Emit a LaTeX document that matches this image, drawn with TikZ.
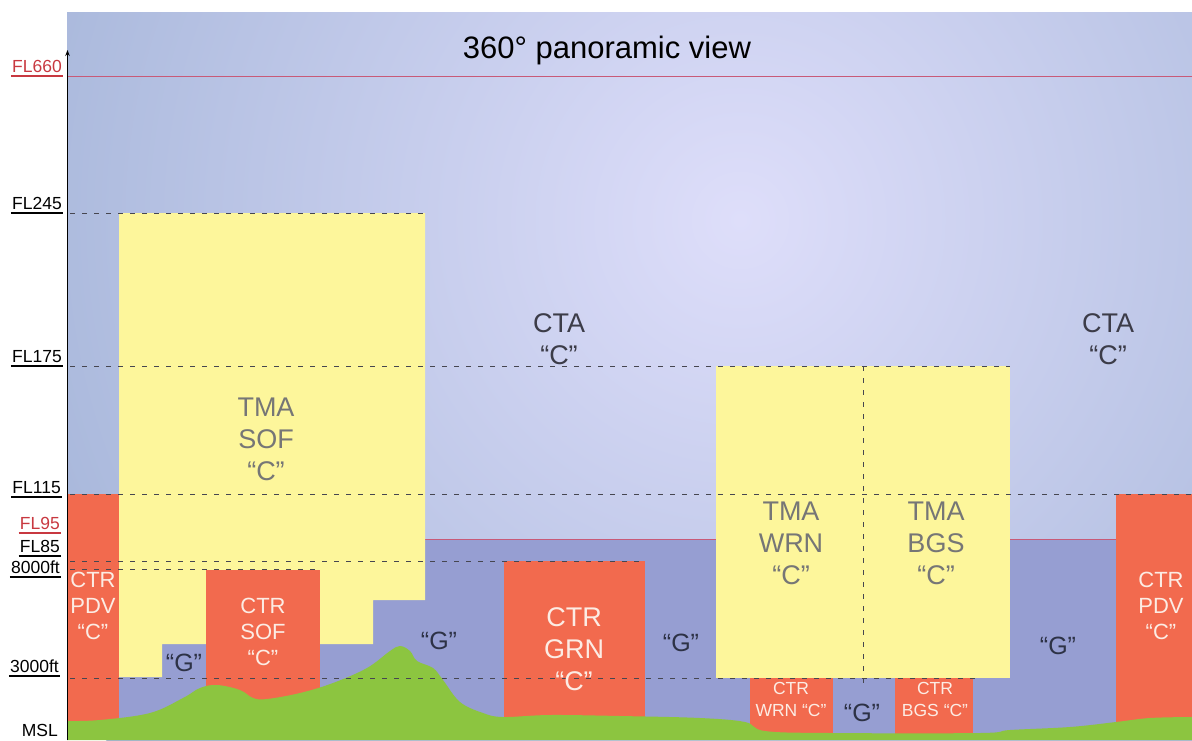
\documentclass[tikz,border=0pt]{standalone}
\usepackage{fontspec}
\setmainfont{Liberation Sans}
\usetikzlibrary{arrows.meta,calc}

\definecolor{bgOuter}{RGB}{163,180,216}
\definecolor{bgInner}{RGB}{222,222,250}
\definecolor{gPurple}{RGB}{150,158,210}
\definecolor{tmaYellow}{RGB}{253,246,155}
\definecolor{ctrRed}{RGB}{242,106,78}
\definecolor{terrain}{RGB}{140,197,64}
\definecolor{flRed}{RGB}{200,56,64}
\definecolor{limitRed}{RGB}{200,90,120}
\definecolor{dashGray}{RGB}{70,70,80}
\definecolor{tmaGray}{RGB}{118,118,118}
\definecolor{ctrText}{RGB}{252,236,228}
\definecolor{gDark}{RGB}{45,50,70}
\definecolor{ctaDark}{RGB}{60,60,72}

\tikzset{
  level/.style={dashGray, line width=1pt, dash pattern=on 5pt off 7pt},
  limit/.style={limitRed, line width=0.9pt},
  axlab/.style={anchor=base east, inner sep=0pt, font=\fontsize{17.5}{20}\selectfont},
  ul/.style={line width=1.8pt},
  tmatext/.style={text=tmaGray, align=center, inner sep=0pt, font=\fontsize{27}{32}\selectfont},
  ctatext/.style={text=ctaDark, align=center, inner sep=0pt, font=\fontsize{27}{32}\selectfont},
  ctrbig/.style={text=ctrText, align=center, inner sep=0pt, font=\fontsize{27}{32}\selectfont},
  ctrmid/.style={text=ctrText, align=center, inner sep=0pt, font=\fontsize{22}{26}\selectfont},
  ctrsmall/.style={text=ctrText, align=center, inner sep=0pt, font=\fontsize{17.5}{22}\selectfont},
  gtext/.style={text=gDark, inner sep=0pt, font=\fontsize{25}{30}\selectfont},
}

\begin{document}
\begin{tikzpicture}[x=1pt,y=-1pt]
\useasboundingbox (0,0) rectangle (1192,740);

% sky
\begin{scope}
  \clip (67,12) rectangle (1192,740);
  \shade[inner color=bgInner, outer color=bgOuter] (740,220) circle (820);
\end{scope}

% uncontrolled airspace below FL95
\fill[gPurple] (67,539) rectangle (1192,740);
\draw[limit] (425,539) -- (1116,539);
\draw[limit] (67,76) -- (1192,76);

% terminal areas
\fill[tmaYellow] (119,213) -- (425,213) -- (425,600) -- (373,600) -- (373,644)
  -- (320,644) -- (320,570) -- (206,570) -- (206,644) -- (162,644) -- (162,677)
  -- (119,677) -- cycle;
\fill[tmaYellow] (716,366) rectangle (1010,678);

% control zones
\fill[ctrRed] (67,494) rectangle (119,740);
\fill[ctrRed] (1116,494) rectangle (1192,740);
\fill[ctrRed] (206,570) rectangle (320,740);
\fill[ctrRed] (504,561) rectangle (645,740);
\fill[ctrRed] (750,678) rectangle (833,740);
\fill[ctrRed] (895,678) rectangle (973,740);

% ground profile
\fill[terrain] (67,740) -- (67,721) -- plot[smooth, tension=0.6] coordinates {
  (67,721) (100,720) (150,713) (183,698) (200,688) (217,685) (240,690)
  (253,698) (267,699) (300,693) (333,683) (367,668) (390,651) (400,646)
  (410,651) (417,661) (433,668) (443,680) (460,702) (483,713) (503,717)
  (550,715) (620,716) (700,718) (745,722) (765,731) (830,733) (980,733)
  (1010,730) (1070,727) (1116,722) (1150,718) (1192,717)}
  -- (1192,740) -- cycle;

% flight level references
\draw[level] (70,213) -- (425,213);
\draw[level] (70,366) -- (1010,366);
\draw[level] (70,494) -- (1192,494);
\draw[level] (70,561) -- (645,561);
\draw[level] (70,569) -- (320,569);
\draw[level] (70,678) -- (975,678);
\draw[level] (863,366) -- (863,688);

% altitude axis
\coordinate (axbot) at (67.5,740);
\coordinate (axtop) at (67.5,50);
\draw[line width=1.6pt, -{Stealth[length=6pt,width=4.5pt]}] (axbot) -- (axtop);

% axis labels
\node[axlab, text=flRed] (l660) at (62,72) {FL660};
\node[axlab] (l245) at (62,209) {FL245};
\node[axlab] (l175) at (62,362) {FL175};
\node[axlab] (l115) at (61,493) {FL115};
\node[axlab, text=flRed] (l95) at (60,529) {FL95};
\node[axlab] (l85) at (60,552) {FL85};
\node[axlab] (l8000) at (60,573) {8000ft};
\node[axlab] (l3000) at (59,672) {3000ft};
\node[axlab] (lmsl) at (58,736) {MSL};
\foreach \n/\c in {l660/flRed, l245/black, l175/black, l115/black, l95/flRed,
                   l85/black, l8000/black, l3000/black}
  \draw[ul, \c] ($(\n.base west)+(-1,4)$) -- ($(\n.base east)+(1,4)$);

% title
\node[anchor=base, inner sep=0pt, font=\fontsize{31}{36}\selectfont] (title) at (607,58) {360° panoramic view};

% airspace names
\node[ctatext] (cta1) at (559,339) {CTA\\“C”};
\node[ctatext] (cta2) at (1108,339) {CTA\\“C”};
\node[tmatext] (tmasof) at (266,439) {TMA\\SOF\\“C”};
\node[tmatext] (tmawrn) at (791,543) {TMA\\WRN\\“C”};
\node[tmatext] (tmabgs) at (936,543) {TMA\\BGS\\“C”};
\node[ctrmid] (ctrpdv1) at (93,606) {CTR\\PDV\\“C”};
\node[ctrmid] (ctrpdv2) at (1161,606) {CTR\\PDV\\“C”};
\node[ctrmid] (ctrsof) at (263,632) {CTR\\SOF\\“C”};
\node[ctrbig] (ctrgrn) at (574,649) {CTR\\GRN\\“C”};
\node[ctrsmall] (ctrwrn) at (791,699) {CTR\\WRN “C”};
\node[ctrsmall] (ctrbgs) at (935,699) {CTR\\BGS “C”};

% class G labels
\node[gtext] (g1) at (184,663) {“G”};
\node[gtext] (g2) at (439,641) {“G”};
\node[gtext] (g3) at (681,643) {“G”};
\node[gtext] (g4) at (1058,646) {“G”};
\node[gtext] (g5) at (862,713) {“G”};
\end{tikzpicture}
\end{document}
